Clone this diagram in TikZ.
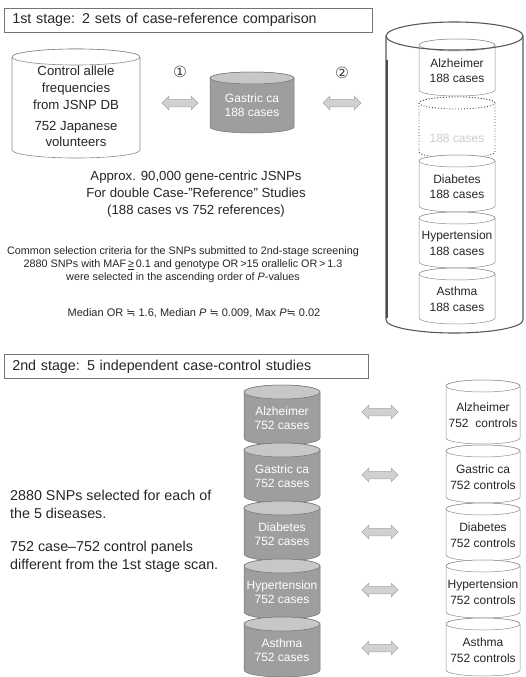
\documentclass[tikz,border=0pt]{standalone}
\usepackage{fontspec}
\setmainfont{Liberation Sans}
\newfontfamily\symf{DejaVu Sans}
\usetikzlibrary{shapes.arrows}
\newcommand\fs[2]{\fontsize{#1}{#2}\selectfont}
\newcommand\cyl[8]{%
  \path[#7body] (#2-#4,#3) -- ++(0,#5)
     arc[start angle=180,end angle=360,x radius=#4pt,y radius=#6pt]
     -- ++(0,-#5)
     arc[start angle=0,end angle=180,x radius=#4pt,y radius=#6pt] -- cycle;
  \path[#7top] (#2,#3) ellipse[x radius=#4pt,y radius=#6pt];
  \node[#7text] (#1) at (#2,#3+#5/2+3) {#8};}
\newcommand\shaft{\rule{0pt}{7pt}}
\tikzset{
  wbody/.style={fill=white,draw=black!45,line width=0.5pt},
  wtop/.style={fill=white,draw=black!45,line width=0.5pt},
  wtext/.style={align=center,inner sep=0pt,text=black!85,font=\fs{12}{15.5}},
  Lbody/.style={fill=white,draw=black!45,line width=0.6pt},
  Ltop/.style={fill=white,draw=black!45,line width=0.6pt},
  Ltext/.style={align=center,inner sep=0pt,text=black!85,font=\fs{13.2}{16.8}},
  gbody/.style={fill=black!38,draw=black!55,line width=0.5pt},
  gtop/.style={fill=black!22,draw=black!55,line width=0.5pt},
  gtext/.style={align=center,inner sep=0pt,text=white,font=\fs{12}{14}},
  dbody/.style={fill=white,draw=black!70,dotted,line width=0.9pt},
  dtop/.style={fill=white,draw=black!70,dotted,line width=0.9pt},
  dtext/.style={align=center,inner sep=0pt,text=black!20,font=\fs{12}{15.5}},
  dblarrow/.style={double arrow,draw=black!35,fill=black!18,line width=0.5pt,
    minimum height=36pt,double arrow head extend=3pt,inner sep=0pt},
  hdr/.style={draw=black!55,line width=0.6pt,anchor=north west,minimum height=24pt,
    inner xsep=8pt,align=left,text=black!85,font=\fs{14.3}{17}},
  outer/.style={draw=black!65,line width=1.1pt},
  txt/.style={align=center,inner sep=0pt,text=black!85}
}
\begin{document}
\begin{tikzpicture}[x=1pt,y=-1pt]
\useasboundingbox (0,0) rectangle (526,677);
% ---------- stage 1 header
\node[hdr,text width=352pt] (h1) at (4,8) {1st stage: 2 sets of case-reference comparison};
% left big cylinder
\cyl{ctrl}{76}{57}{64}{93}{8}{L}{Control allele\\frequencies\\from JSNP DB\\[4pt]752 Japanese\\volunteers}
% gastric ca 188
\cyl{gas1}{252}{78}{42}{49}{6}{g}{Gastric ca\\188 cases}
\node[txt,text=black!75,font=\symf\fs{15.5}{17}] (n1) at (180,72) {①};
\node[txt,text=black!75,font=\symf\fs{15.5}{17}] (n2) at (342,73) {②};
\node[dblarrow] (a1) at (180,103) {\shaft};
\node[dblarrow,minimum height=38pt] (a2) at (342,103) {\shaft};
% outer cylinder
\path[outer,fill=white] (386,36) -- (386,320)
  arc[start angle=180,end angle=360,x radius=68.5pt,y radius=13pt] -- (523,36);
\cyl{alz1}{457}{45}{38}{45}{6}{w}{Alzheimer\\188 cases}
\cyl{gasd}{457}{103}{38}{49}{6}{d}{\phantom{Gastric ca}\\188 cases}
\cyl{dia1}{457}{161}{38}{45}{6}{w}{Diabetes\\188 cases}
\cyl{hyp1}{457}{218}{38}{44}{6}{w}{Hypertension\\188 cases}
\cyl{ast1}{457}{274}{38}{44}{6}{w}{Asthma\\188 cases}
\draw[outer] (454.5,36) ellipse[x radius=68.5pt,y radius=14pt];
\draw[black!70,line width=1.8pt] (387,60) -- (387,318);
% texts
\node[txt,font=\fs{13.2}{17}] (approx) at (196,194.5)
  {Approx. 90,000 gene-centric JSNPs\\For double Case-"Reference" Studies\\(188 cases vs 752 references)};
\node[txt,font=\fs{10.8}{13}] (crit) at (183,265)
  {Common selection criteria for the SNPs submitted to 2nd-stage screening\\
   2880 SNPs with MAF\,\underline{≥}\,0.1 and genotype OR\,>15 orallelic OR\,>\,1.3\\
   were selected in the ascending order of \textit{P}-values};
\node[txt,font=\fs{11}{13}] (med) at (194,313)
  {Median OR {\symf ≒} 1.6, Median \textit{P} {\symf ≒} 0.009, Max \textit{P}{\symf ≒} 0.02};
% ---------- stage 2
\node[hdr,text width=348pt] (h2) at (4,354) {2nd stage: 5 independent case-control studies};
\cyl{alz2}{282}{392}{38}{46}{7}{g}{Alzheimer\\752 cases}
\cyl{gas2}{282}{450}{38}{46}{7}{g}{Gastric ca\\752 cases}
\cyl{dia2}{282}{508}{38}{46}{7}{g}{Diabetes\\752 cases}
\cyl{hyp2}{282}{566}{38}{46}{7}{g}{Hypertension\\752 cases}
\cyl{ast2}{282}{624}{38}{46}{7}{g}{Asthma\\752 cases}
\cyl{alzc}{483}{386}{37}{52}{6}{w}{Alzheimer\\752\ \ controls}
\cyl{gasc}{483}{451}{37}{46}{6}{w}{Gastric ca\\752 controls}
\cyl{diac}{483}{509}{37}{46}{6}{w}{Diabetes\\752 controls}
\cyl{hypc}{483}{566}{37}{46}{6}{w}{Hypertension\\752 controls}
\cyl{astc}{483}{624}{37}{46}{6}{w}{Asthma\\752 controls}
\node[dblarrow] (b1) at (380,412) {\shaft};
\node[dblarrow] (b2) at (380,475) {\shaft};
\node[dblarrow] (b3) at (380,532) {\shaft};
\node[dblarrow] (b4) at (380,590) {\shaft};
\node[dblarrow] (b5) at (380,648) {\shaft};
\node[anchor=west,align=left,inner sep=0pt,text=black!85,font=\fs{14.3}{17.8}] (s1) at (10,504)
  {2880 SNPs selected for each of\\the 5 diseases.};
\node[anchor=west,align=left,inner sep=0pt,text=black!85,font=\fs{14.3}{17.8}] (s2) at (10,556.5)
  {752 case–752 control panels\\different from the 1st stage scan.};
\end{tikzpicture}
\end{document}
